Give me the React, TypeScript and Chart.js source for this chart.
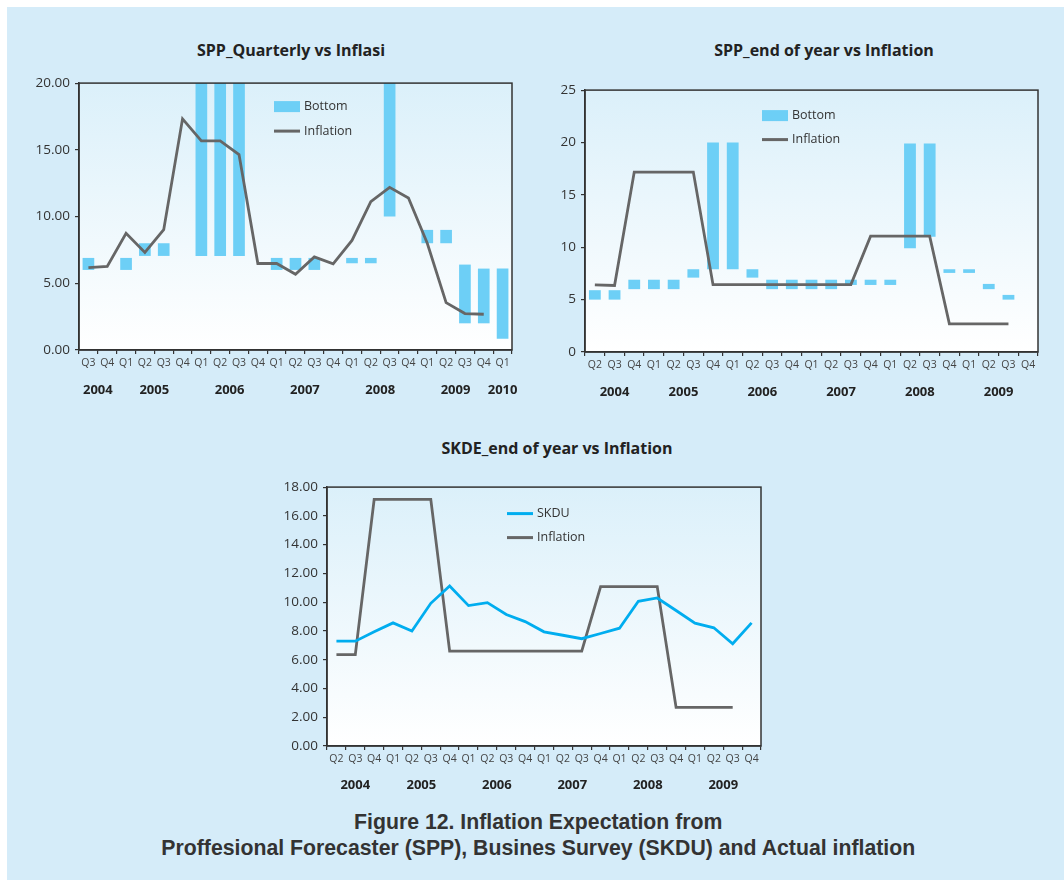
import React, { useEffect, useRef } from 'react';
import { Chart, registerables } from 'chart.js';
Chart.register(...registerables);

// ---------- Chart 1: SPP_Quarterly vs Inflasi ----------
const q1Labels = ['Q3','Q4','Q1','Q2','Q3','Q4','Q1','Q2','Q3','Q4','Q1','Q2','Q3','Q4','Q1','Q2','Q3','Q4','Q1','Q2','Q3','Q4','Q1'];
const q1Years = ['2004','2005','2006','2007','2008','2009','2010'];
const q1YearSpans = [[0,1],[2,5],[6,9],[10,13],[14,17],[18,21],[22,22]];
const q1BottomLow = [6, null, 6, 7.05, 7.05, null, 7.05, 7.05, 7.05, null, 6, 6, 6, null, 6.5, 6.5, 10, null, 8, 8, 2, 2, 0.85];
const q1BottomHigh = [6.9, null, 6.9, 8, 8, null, 20, 20, 20, null, 6.9, 6.9, 6.9, null, 6.9, 6.9, 20, null, 9, 9, 6.4, 6.1, 6.1];
const q1Inflation = [6.18, 6.26, 8.74, 7.31, 9.01, 17.32, 15.67, 15.67, 14.64, 6.48, 6.48, 5.68, 6.98, 6.46, 8.21, 11.11, 12.19, 11.39, 8.0, 3.55, 2.73, 2.68, null];

// ---------- Chart 2: SPP_end of year vs Inflation ----------
const e2Labels = ['Q2','Q3','Q4','Q1','Q2','Q3','Q4','Q1','Q2','Q3','Q4','Q1','Q2','Q3','Q4','Q1','Q2','Q3','Q4','Q1','Q2','Q3','Q4'];
const e2Years = ['2004','2005','2006','2007','2008','2009'];
const e2YearSpans = [[0,2],[3,6],[7,10],[11,14],[15,18],[19,22]];
const e2BottomLow = [5, 5, 6, 6, 6, 7.1, 7.9, 7.9, 7.1, 6, 6, 6, 6, 6.4, 6.4, 6.4, 9.9, 11, 7.55, 7.55, 6, 5, null];
const e2BottomHigh = [5.9, 5.9, 6.9, 6.9, 6.9, 7.9, 20, 20, 7.9, 6.9, 6.9, 6.9, 6.9, 6.9, 6.9, 6.9, 19.9, 19.9, 7.9, 7.9, 6.5, 5.45, null];
const e2Inflation = [6.4, 6.35, 17.17, 17.17, 17.17, 17.17, 6.43, 6.43, 6.43, 6.43, 6.43, 6.43, 6.43, 6.43, 11.06, 11.06, 11.06, 11.06, 2.69, 2.69, 2.69, 2.69, null];

// ---------- Chart 3: SKDE_end of year vs Inflation ----------
const s3Labels = ['Q2','Q3','Q4','Q1','Q2','Q3','Q4','Q1','Q2','Q3','Q4','Q1','Q2','Q3','Q4','Q1','Q2','Q3','Q4','Q1','Q2','Q3','Q4'];
const s3Years = ['2004','2005','2006','2007','2008','2009'];
const s3YearSpans = [[0,2],[3,6],[7,10],[11,14],[15,18],[19,22]];
const s3Skdu = [7.29, 7.29, 7.94, 8.56, 8.0, 9.92, 11.12, 9.76, 9.97, 9.14, 8.65, 7.94, 7.7, 7.46, 7.82, 8.19, 10.06, 10.29, 9.42, 8.54, 8.22, 7.11, 8.56];
const s3Inflation = [6.35, 6.35, 17.15, 17.15, 17.15, 17.15, 6.6, 6.6, 6.6, 6.6, 6.6, 6.6, 6.6, 6.6, 11.08, 11.08, 11.08, 11.08, 2.68, 2.68, 2.68, 2.68, null];

const FONT = "'Open Sans', 'DejaVu Sans', sans-serif";
const BAR_COLOR = '#6dcff6';
const INFL_COLOR = '#666666';
const SKDU_COLOR = '#00adef';
const AXIS_COLOR = '#333333';

const plotBg = {
  id: 'plotBg',
  beforeDraw(chart: any) {
    const { ctx, chartArea } = chart;
    const { left, top, right, bottom } = chartArea;
    const g = ctx.createLinearGradient(0, top, 0, bottom);
    g.addColorStop(0, '#dbf0fa');
    g.addColorStop(1, '#ffffff');
    ctx.save();
    ctx.fillStyle = g;
    ctx.fillRect(left, top, right - left, bottom - top);
    ctx.restore();
  },
};

const plotBorder = {
  id: 'plotBorder',
  afterDraw(chart: any) {
    const { ctx, chartArea } = chart;
    const { left, top, right, bottom } = chartArea;
    ctx.save();
    ctx.strokeStyle = AXIS_COLOR;
    ctx.lineWidth = 1.5;
    ctx.strokeRect(left, top, right - left, bottom - top);
    ctx.restore();
  },
};

const insideLegend = {
  id: 'insideLegend',
  afterDraw(chart: any, _args: any, opts: any) {
    const { ctx, chartArea } = chart;
    const x0 = chartArea.left + opts.dx;
    let y = chartArea.top + opts.dy;
    ctx.save();
    chart.data.datasets.forEach((ds: any) => {
      if ((ds.type || chart.config.type) === 'bar') {
        ctx.fillStyle = ds.backgroundColor;
        ctx.fillRect(x0, y - 5.5, 26, 11);
      } else {
        ctx.strokeStyle = ds.borderColor;
        ctx.lineWidth = 3;
        ctx.beginPath();
        ctx.moveTo(x0, y);
        ctx.lineTo(x0 + 26, y);
        ctx.stroke();
      }
      ctx.fillStyle = '#333';
      ctx.font = `12.5px ${FONT}`;
      ctx.textBaseline = 'middle';
      ctx.textAlign = 'left';
      ctx.fillText(ds.label, x0 + 30, y);
      y += opts.spacing;
    });
    ctx.restore();
  },
};

const yearLabels = {
  id: 'yearLabels',
  afterDraw(chart: any, _args: any, opts: any) {
    const { ctx, chartArea } = chart;
    const xs = chart.scales.x;
    ctx.save();
    ctx.fillStyle = '#222';
    ctx.font = `bold 13px ${FONT}`;
    ctx.textAlign = 'center';
    ctx.textBaseline = 'middle';
    opts.labels.forEach((lab: string, i: number) => {
      const [a, b] = opts.spans[i];
      const x = (xs.getPixelForValue(a) + xs.getPixelForValue(b)) / 2;
      ctx.fillText(lab, x, chartArea.bottom + opts.dy);
    });
    ctx.restore();
  },
};

function xScale(height: number) {
  return {
    type: 'category',
    offset: true,
    grid: { offset: true, drawOnChartArea: false, drawTicks: true, tickLength: 4, color: AXIS_COLOR, lineWidth: 1.2 },
    border: { color: AXIS_COLOR, width: 1.5 },
    ticks: { autoSkip: false, maxRotation: 0, minRotation: 0, padding: 3, color: '#444', font: { family: FONT, size: 10.5 } },
    afterFit: (s: any) => { s.height = height; },
  };
}

function yScale(max: number, step: number, decimals: number, width: number) {
  return {
    min: 0,
    max,
    grid: { drawOnChartArea: false, drawTicks: true, tickLength: 4, color: AXIS_COLOR, lineWidth: 1.2 },
    border: { color: AXIS_COLOR, width: 1.5 },
    ticks: {
      stepSize: step,
      padding: 5,
      color: '#333',
      font: { family: FONT, size: 13.5 },
      callback: (v: any) => Number(v).toFixed(decimals),
    },
    afterFit: (s: any) => { s.width = width; },
  };
}

function floating(low: (number | null)[], high: (number | null)[]) {
  return low.map((l, i) => (l == null || high[i] == null ? null : [l, high[i] as number]));
}

function lineDs(label: string, data: (number | null)[], color: string) {
  return {
    type: 'line',
    label,
    data,
    borderColor: color,
    backgroundColor: color,
    borderWidth: 2.8,
    pointRadius: 0,
    tension: 0,
    order: 0,
    spanGaps: false,
  };
}

function barLineConfig(labels: string[], low: any[], high: any[], infl: any[], yMax: number, decimals: number,
  yWidth: number, xHeight: number, padding: any, barPct: number, legend: any, years: string[], spans: number[][]) {
  return {
    type: 'bar',
    data: {
      labels,
      datasets: [
        {
          type: 'bar',
          label: 'Bottom',
          data: floating(low, high),
          backgroundColor: BAR_COLOR,
          borderWidth: 0,
          barPercentage: barPct,
          categoryPercentage: 1,
          order: 1,
        },
        lineDs('Inflation', infl, INFL_COLOR),
      ],
    },
    options: {
      responsive: false,
      animation: false,
      layout: { padding },
      scales: { x: xScale(xHeight), y: yScale(yMax, 5, decimals, yWidth) },
      plugins: {
        legend: { display: false },
        tooltip: { enabled: false },
        title: { display: false },
        insideLegend: legend,
        yearLabels: { labels: years, spans, dy: 40 },
      },
    },
    plugins: [plotBg, insideLegend, yearLabels, plotBorder],
  };
}

function config1() {
  return barLineConfig(q1Labels, q1BottomLow, q1BottomHigh, q1Inflation, 20, 2, 59, 60,
    { left: 0, right: 28, top: 8, bottom: 0 }, 0.62, { dx: 195, dy: 23.5, spacing: 24.5 }, q1Years, q1YearSpans);
}

function config2() {
  return barLineConfig(e2Labels, e2BottomLow, e2BottomHigh, e2Inflation, 25, 0, 45, 58,
    { left: 0, right: 22, top: 9, bottom: 0 }, 0.6, { dx: 177, dy: 25.5, spacing: 24 }, e2Years, e2YearSpans);
}

function config3() {
  return {
    type: 'line',
    data: {
      labels: s3Labels,
      datasets: [lineDs('SKDU', s3Skdu, SKDU_COLOR), lineDs('Inflation', s3Inflation, INFL_COLOR)],
    },
    options: {
      responsive: false,
      animation: false,
      layout: { padding: { left: 0, right: 19, top: 10, bottom: 0 } },
      scales: { x: xScale(60), y: yScale(18, 2, 2, 57) },
      plugins: {
        legend: { display: false },
        tooltip: { enabled: false },
        title: { display: false },
        insideLegend: { dx: 180, dy: 26.5, spacing: 24 },
        yearLabels: { labels: s3Years, spans: s3YearSpans, dy: 39 },
      },
    },
    plugins: [plotBg, insideLegend, yearLabels, plotBorder],
  };
}

function ChartBox({ left, top, width, height, make }: any) {
  const ref = useRef<HTMLCanvasElement>(null);
  useEffect(() => {
    const chart = new Chart(ref.current as HTMLCanvasElement, make() as any);
    return () => chart.destroy();
  }, []);
  return (
    <canvas ref={ref} width={width} height={height}
      style={{ position: 'absolute', left, top, width, height }} />
  );
}

function Title({ cx, top, text }: any) {
  return (
    <div style={{
      position: 'absolute', left: cx - 250, width: 500, top, textAlign: 'center',
      fontFamily: FONT, fontWeight: 700, fontSize: 16, lineHeight: '20px', color: '#222',
    }}>{text}</div>
  );
}

export default function App() {
  return (
    <div style={{ position: 'absolute', left: 0, top: 0, width: 1064, height: 880, background: '#ffffff' }}>
      <div style={{ position: 'absolute', left: 7, top: 7, width: 1057, height: 873, background: '#d5ecf9' }} />
      <Title cx={291} top={40} text="SPP_Quarterly vs Inflasi" />
      <Title cx={824} top={40} text="SPP_end of year vs Inflation" />
      <Title cx={557} top={438} text="SKDE_end of year vs Inflation" />
      <ChartBox left={20} top={70} width={520} height={340} make={config1} />
      <ChartBox left={540} top={77} width={520} height={333} make={config2} />
      <ChartBox left={270} top={474} width={510} height={332} make={config3} />
      <div style={{
        position: 'absolute', left: 37, width: 1000, top: 809, textAlign: 'center',
        fontFamily: "'Liberation Sans Narrow', 'Liberation Sans', Arial, sans-serif", fontWeight: 700,
        fontSize: 22, lineHeight: '26px', color: '#333', transform: 'scaleX(0.966)', transformOrigin: '537px 0',
      }}>
        <div>Figure 12. Inflation Expectation from</div>
        <div>Proffesional Forecaster (SPP), Busines Survey (SKDU) and Actual inflation</div>
      </div>
    </div>
  );
}
